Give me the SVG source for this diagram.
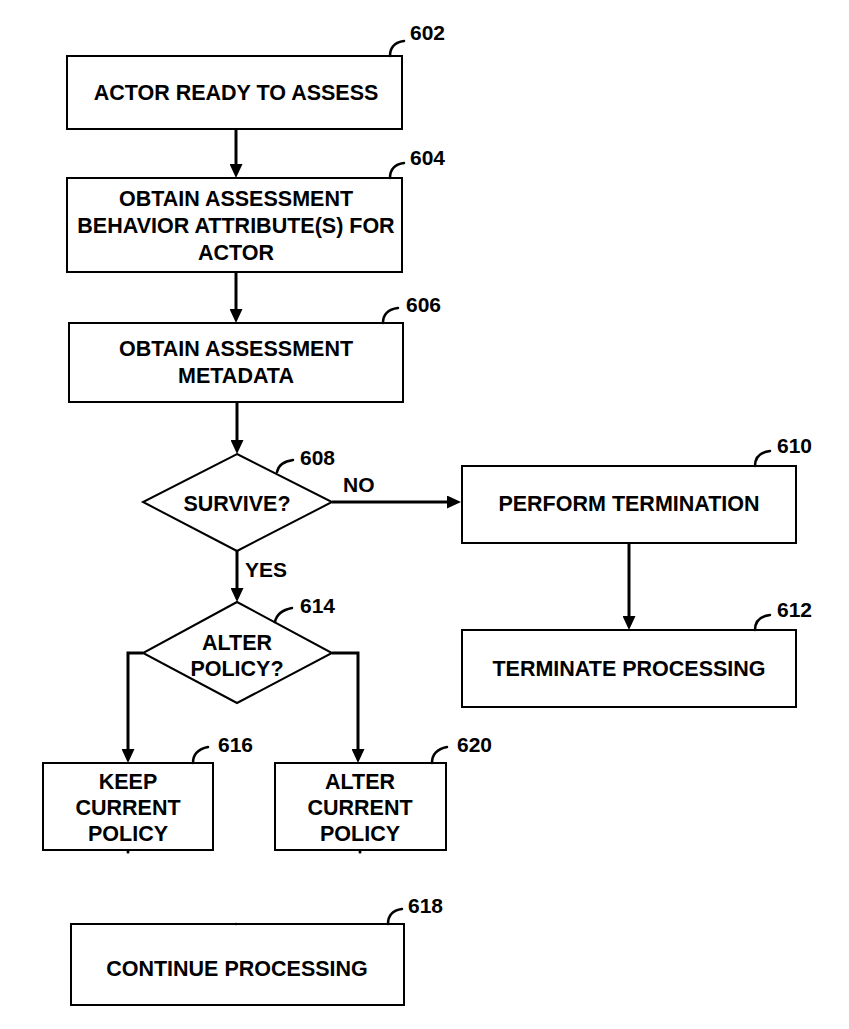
<svg xmlns="http://www.w3.org/2000/svg" width="849" height="1029" viewBox="0 0 849 1029">
<style>
.box{fill:#fff;stroke:#000;stroke-width:2}
.t{font-family:"Liberation Sans",Arial,sans-serif;font-weight:bold;font-size:21.5px;fill:#000;text-anchor:middle}
.lbl{font-family:"Liberation Sans",Arial,sans-serif;font-weight:bold;font-size:21px;fill:#000}
.lead{fill:none;stroke:#000;stroke-width:2.5;stroke-linecap:round}
.c{fill:none;stroke:#000;stroke-width:3}
</style>
<defs>
<marker id="ah" viewBox="0 0 14 13" markerWidth="14" markerHeight="13" refX="4" refY="6.5" orient="auto" markerUnits="userSpaceOnUse">
<path d="M0,0 L14,6.5 L0,13 Z" fill="#000"/>
</marker>
</defs>
<rect width="849" height="1029" fill="#fff"/>
<g id="connectors">
<line class="c" x1="236" y1="129" x2="236" y2="168" marker-end="url(#ah)"/>
<line class="c" x1="236" y1="272" x2="236" y2="313" marker-end="url(#ah)"/>
<line class="c" x1="237" y1="402" x2="237" y2="444" marker-end="url(#ah)"/>
<line class="c" x1="332" y1="502" x2="451" y2="502" marker-end="url(#ah)"/>
<line class="c" x1="237" y1="551" x2="237" y2="592" marker-end="url(#ah)"/>
<line class="c" x1="629" y1="543" x2="629" y2="620" marker-end="url(#ah)"/>
<polyline class="c" points="143,653 128,653 128,753" marker-end="url(#ah)"/>
<polyline class="c" points="332,653 358,653 358,753" marker-end="url(#ah)"/>
<text class="lbl" x="343" y="492">NO</text>
<text class="lbl" x="245" y="577">YES</text>
</g>
<g id="n602">
<rect class="box" x="67" y="56" width="335" height="73"/>
<text class="t" x="236" y="100">ACTOR READY TO ASSESS</text>
<path class="lead" d="M390,56 Q390,43 404,41"/>
<text class="lbl" x="410" y="40">602</text>
</g>
<g id="n604">
<rect class="box" x="67" y="178" width="335" height="94"/>
<text class="t" x="236" y="206">OBTAIN ASSESSMENT</text>
<text class="t" x="236" y="233">BEHAVIOR ATTRIBUTE(S) FOR</text>
<text class="t" x="236" y="260">ACTOR</text>
<path class="lead" d="M390,178 Q390,165 404,163"/>
<text class="lbl" x="410" y="165">604</text>
</g>
<g id="n606">
<rect class="box" x="69" y="323" width="334" height="79"/>
<text class="t" x="236" y="356">OBTAIN ASSESSMENT</text>
<text class="t" x="236" y="383">METADATA</text>
<path class="lead" d="M383,323 Q383,310 398,308"/>
<text class="lbl" x="406" y="312">606</text>
</g>
<g id="n608">
<polygon class="box" points="237,454 332,502 237,551 143,502"/>
<text class="t" x="237" y="511">SURVIVE?</text>
<path class="lead" d="M277,472 Q279,462 293,460"/>
<text class="lbl" x="300" y="465">608</text>
</g>
<g id="n610">
<rect class="box" x="462" y="466" width="334" height="77"/>
<text class="t" x="629" y="511">PERFORM TERMINATION</text>
<path class="lead" d="M755,466 Q755,453 770,451"/>
<text class="lbl" x="777" y="453">610</text>
</g>
<g id="n612">
<rect class="box" x="462" y="630" width="334" height="77"/>
<text class="t" x="629" y="676">TERMINATE PROCESSING</text>
<path class="lead" d="M755,630 Q755,617 770,615"/>
<text class="lbl" x="777" y="617">612</text>
</g>
<g id="n614">
<polygon class="box" points="237,602 332,653 237,703 143,653"/>
<text class="t" x="237" y="650">ALTER</text>
<text class="t" x="237" y="676">POLICY?</text>
<path class="lead" d="M275,622 Q277,611 292,608"/>
<text class="lbl" x="300" y="613">614</text>
</g>
<g id="n616">
<rect class="box" x="43" y="763" width="170" height="87"/>
<text class="t" x="128" y="789">KEEP</text>
<text class="t" x="128" y="815">CURRENT</text>
<text class="t" x="128" y="841">POLICY</text>
<circle cx="128" cy="852" r="1.5" fill="#000"/>
<path class="lead" d="M193,763 Q193,750 208,747"/>
<text class="lbl" x="218" y="752">616</text>
</g>
<g id="n620">
<rect class="box" x="275" y="763" width="171" height="87"/>
<text class="t" x="360" y="789">ALTER</text>
<text class="t" x="360" y="815">CURRENT</text>
<text class="t" x="360" y="841">POLICY</text>
<circle cx="360" cy="852" r="1.5" fill="#000"/>
<path class="lead" d="M432,763 Q432,750 447,747"/>
<text class="lbl" x="457" y="752">620</text>
</g>
<g id="n618">
<rect class="box" x="71" y="924" width="333" height="81"/>
<text class="t" x="237" y="976">CONTINUE PROCESSING</text>
<circle cx="236" cy="924" r="1.3" fill="#000"/>
<path class="lead" d="M388,924 Q388,911 402,909"/>
<text class="lbl" x="408" y="913">618</text>
</g>
</svg>
